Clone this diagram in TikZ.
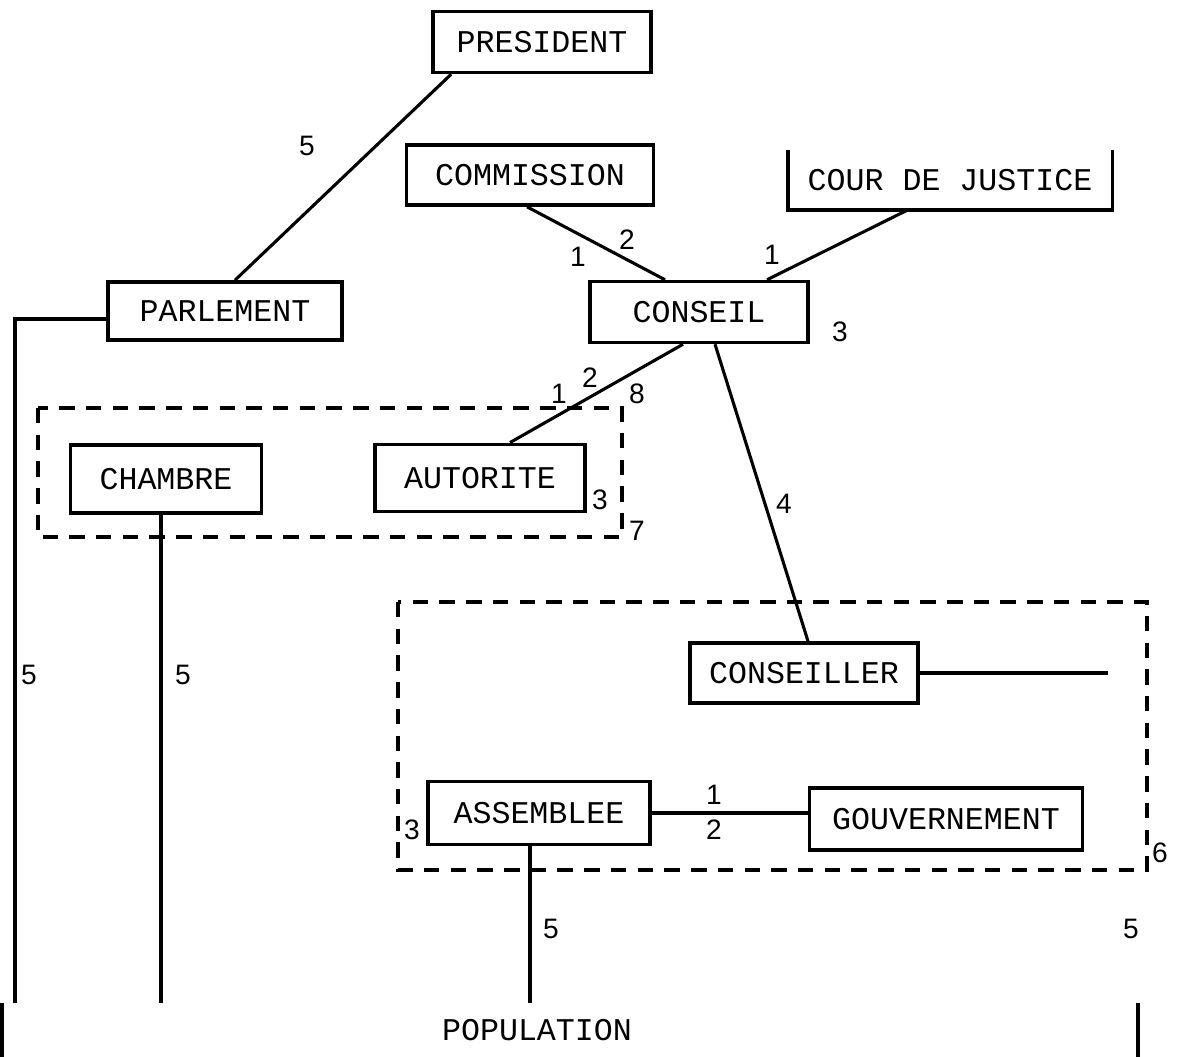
\documentclass[tikz,border=0pt]{standalone}
\usepackage{fontspec}
\setmainfont{Liberation Sans}
\newfontfamily\machine{Liberation Mono}
\usetikzlibrary{calc}

\tikzset{
  boite/.style={draw, line width=2.6pt, inner sep=0pt, font=\machine\fontsize{22.5}{26}\selectfont},
  num/.style={inner sep=0pt, font=\fontsize{20}{24}\selectfont},
  trait/.style={line width=2.2pt},
  cadre/.style={line width=2.4pt, dash pattern=on 11pt off 8pt},
}

\begin{document}
\begin{tikzpicture}[x=0.025cm, y=-0.025cm]
  \useasboundingbox (0,0) rectangle (1179,1057);

  % === institutions (pixel grid, y downwards) ===
  \node[boite, minimum width=5.45cm, minimum height=1.52cm] (pres) at (542,42) {PRESIDENT};
  \node[boite, minimum width=6.18cm, minimum height=1.5cm] (comm) at (530,175) {COMMISSION};
  \node[inner sep=0pt, minimum width=8.1cm, minimum height=1.5cm,
        font=\machine\fontsize{22.5}{26}\selectfont] (cour) at (950,180) {COUR DE JUSTICE};
  \node[boite, minimum width=5.85cm, minimum height=1.45cm] (parl) at (225,311) {PARLEMENT};
  \node[boite, minimum width=5.45cm, minimum height=1.52cm] (cons) at (699,312) {CONSEIL};
  \node[boite, minimum width=4.78cm, minimum height=1.7cm] (chamb) at (166,479) {CHAMBRE};
  \node[boite, minimum width=5.25cm, minimum height=1.68cm] (auto) at (480,478) {AUTORITE};
  \node[boite, minimum width=5.7cm, minimum height=1.5cm] (consr) at (804,673) {CONSEILLER};
  \node[boite, minimum width=5.55cm, minimum height=1.58cm] (assem) at (539,813) {ASSEMBLEE};
  \node[boite, minimum width=6.83cm, minimum height=1.55cm] (gouv) at (946,819) {GOUVERNEMENT};

  % cour de justice : cadre ouvert en haut
  \draw[line width=2.6pt] (cour.north west) -- (cour.south west) -- (cour.south east) -- (cour.north east);

  % === population (seulement les deux bords) ===
  \node[inner sep=0pt, minimum width=28.38cm, minimum height=1.35cm] (popc) at (570,1030) {};
  \node[inner sep=0pt, font=\machine\fontsize{22.5}{26}\selectfont] (pop) at (537,1030) {POPULATION};
  \draw[line width=2.4pt] (popc.north west) -- (popc.south west);
  \draw[line width=2.4pt] (popc.north east) -- (popc.south east);

  % === cadres en tirets ===
  \draw[cadre] (38,408) rectangle (622,537);
  \draw[cadre] (398,602) rectangle (1147,870);

  % === liaisons ===
  \draw[trait] ($(pres.south west)+(20,0)$) -- ($(parl.north)+(10,0)$);
  \draw[trait] ($(comm.south)+(-3,0)$) -- ($(cons.north)+(-34,0)$);
  \draw[trait] ($(cour.south)+(-43,0)$) -- ($(cons.north)+(68,0)$);
  \draw[trait] ($(cons.south)+(-16,0)$) -- ($(auto.north)+(30,0)$);
  \draw[trait] ($(cons.south)+(16,0)$) -- ($(consr.north)+(4,0)$);
  \draw[trait] ($(parl.west)+(0,8)$) -| ($(popc.north west)+(13,0)$);
  \draw[trait] ($(chamb.south)+(-5,0)$) -- ($(chamb.south |- popc.north)+(-5,0)$);
  \draw[trait] ($(assem.south)+(-9,0)$) -- ($(assem.south |- popc.north)+(-9,0)$);
  \coordinate (libre) at (1108,670);
  \draw[trait] (consr.east) -- (consr.east -| libre);
  \draw[trait] (assem.east) -- (assem.east -| gouv.west);

  % === chiffres ===
  \node[num] (n1) at (307,146) {5};
  \node[num] (n2) at (578,257) {1};
  \node[num] (n3) at (627,240) {2};
  \node[num] (n4) at (772,255) {1};
  \node[num] (n5) at (840,332) {3};
  \node[num] (n6) at (559,394) {1};
  \node[num] (n7) at (590,378) {2};
  \node[num] (n8) at (637,394) {8};
  \node[num] (n9) at (600,500) {3};
  \node[num] (n10) at (637,531) {7};
  \node[num] (n11) at (784,504) {4};
  \node[num] (n12) at (29,675) {5};
  \node[num] (n13) at (183,675) {5};
  \node[num] (n14) at (714,795) {1};
  \node[num] (n15) at (714,830) {2};
  \node[num] (n16) at (412,830) {3};
  \node[num] (n17) at (1160,853) {6};
  \node[num] (n18) at (551,929) {5};
  \node[num] (n19) at (1131,929) {5};
\end{tikzpicture}
\end{document}
